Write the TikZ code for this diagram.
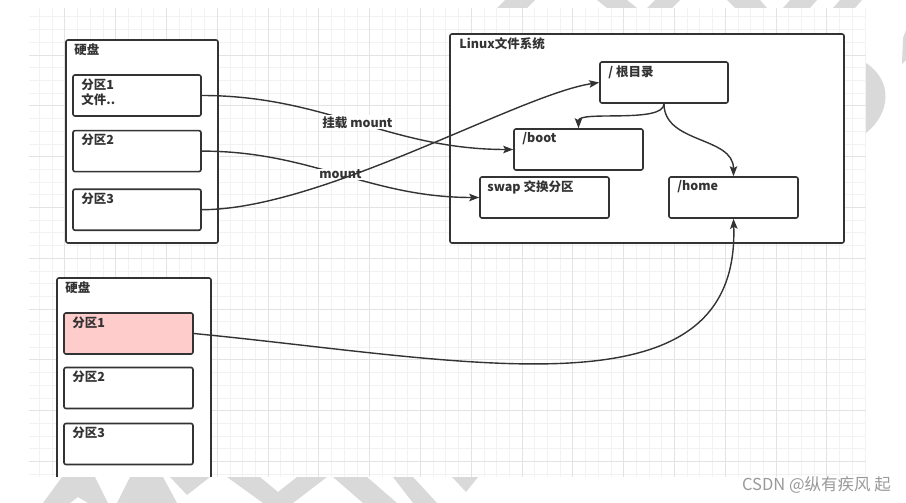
\documentclass[tikz,border=0pt]{standalone}
\usepackage{fontspec}
\setmainfont{Noto Sans CJK SC}
\usetikzlibrary{arrows.meta,positioning}
\definecolor{ink}{HTML}{333333}
\definecolor{gridmin}{HTML}{F2F2F2}
\definecolor{gridmaj}{HTML}{E3E3E3}
\definecolor{pinkfill}{HTML}{FFCCCC}
\definecolor{wmark}{HTML}{D9D9D9}
\definecolor{wtext}{HTML}{9A9A9A}

\begin{document}
\begin{tikzpicture}[
  x=1pt, y=-1pt,
  box/.style={rectangle, draw=ink, line width=1.6pt, rounded corners=2pt,
              fill=white, inner sep=0pt},
  part/.style={box, minimum width=128pt, minimum height=41pt},
  disk/.style={box, minimum width=152pt},
  tag/.style={anchor=north west, inner sep=0pt, xshift=9pt, yshift=-4pt,
              font=\fontsize{12.5}{16}\selectfont\bfseries, text=ink, align=left},
  lbl/.style={fill=white, inner sep=1pt,
              font=\fontsize{12.5}{15}\selectfont\bfseries, text=ink},
  arr/.style={-{Stealth[length=10pt,width=7.5pt,inset=2pt]}, draw=ink, line width=1.4pt}
]
  \useasboundingbox (0,0) rectangle (906,503);
  \fill[white] (0,0) rectangle (906,503);

  % grid
  \foreach \k in {2,...,67}
    \draw[gridmin, line width=0.8pt] ({14+12.7*\k},8) -- ({14+12.7*\k},477);
  \foreach \k in {1,...,37}
    \draw[gridmin, line width=0.8pt] (29,{4.2+12.7*\k}) -- (866,{4.2+12.7*\k});
  \foreach \k in {1,...,16}
    \draw[gridmaj, line width=0.8pt] ({14+50.8*\k},8) -- ({14+50.8*\k},477);
  \foreach \k in {1,...,9}
    \draw[gridmaj, line width=0.8pt] (29,{4.2+50.8*\k}) -- (866,{4.2+50.8*\k});

  % first disk
  \node[disk, minimum height=203pt, label={[tag]north west:硬盘}] (disk1) at (142,141.5) {};
  \node[part, label={[tag]north west:分区1\\文件..}] (p11) at (137,95.5) {};
  \node[part, label={[tag]north west:分区2}] (p12) [below=13pt of p11] {};
  \node[part, label={[tag]north west:分区3}] (p13) [below=16pt of p12] {};

  % linux file system
  \node[box, minimum width=394pt, minimum height=209pt,
        label={[tag, xshift=1pt]north west:Linux文件系统}] (linux) at (647,138.5) {};
  \node[part, label={[tag]north west:/ 根目录}] (root) at (664,82.5) {};
  \node[part, minimum width=129pt, label={[tag]north west:/boot}] (boot) at (578.5,149.5) {};
  \node[part, minimum width=129pt, label={[tag, xshift=-1pt]north west:swap 交换分区}] (swap) at (544.5,197.5) {};
  \node[part, minimum width=129pt, label={[tag]north west:/home}] (home) at (733.5,197.5) {};

  % second disk
  \node[disk, minimum width=154pt, minimum height=212pt,
        label={[tag]north west:硬盘}] (disk2) at (134,384) {};
  \node[part, minimum width=129pt, fill=pinkfill, label={[tag]north west:分区1}] (q1) at (128.5,333.5) {};
  \node[part, minimum width=129pt, label={[tag]north west:分区2}] (q2) at (128.5,388) {};
  \node[part, minimum width=129pt, label={[tag]north west:分区3}] (q3) at (128.5,444) {};

  % mounts
  \draw[arr] (p11.east) to[out=0,in=180] node[lbl] {挂载 mount} (boot.west);
  \draw[arr] (p12.east) to[out=0,in=180] node[lbl] {mount} (swap.west);
  \draw[arr] (p13.east) .. controls +(120,0) and +(-80,12) .. (root.west);
  \draw[arr] (root.south) .. controls +(0,20) and +(0,-18) .. (boot.north);
  \draw[arr] (root.south) .. controls +(0,40) and +(0,-40) .. (home.north);
  \draw[arr] (q1.east) .. controls +(277,27) and +(6.5,202) .. (home.south);

  % watermark
  \fill[white] (0,477) rectangle (906,503);
  \fill[white] (866,0) rectangle (906,503);
  \fill[wmark] (62,477) -- (95,477) -- (108,503) -- (88,503) -- (78,497) -- (70,503) -- (43,503) -- cycle;
  \fill[wmark] (130,477) -- (163,477) -- (177,503) -- (117,503) -- cycle;
  \fill[wmark] (170,477) -- (210,477) -- (187,495) -- cycle;
  \fill[wmark] (227,477) -- (260,477) -- (278,492) -- (297,477) -- (327,477) -- (293,503) -- (263,503) -- cycle;
  \fill[wmark] (333,477) -- (367,477) -- (397,503) -- (363,503) -- cycle;
  \fill[wmark] (393,477) -- (413,477) -- (437,503) -- (413,503) -- cycle;
  \fill[wmark] (452,477) -- (478,477) -- (466,492) -- cycle;
  \fill[wmark] (505,0) -- (535,0) -- (527,8) -- (497,8) -- cycle;
  \fill[wmark] (597,0) -- (627,0) -- (637,8) -- (607,8) -- cycle;
  \fill[wmark] (655,0) -- (680,0) -- (672,8) -- (647,8) -- cycle;
  \fill[wmark] (727,0) -- (760,0) -- (767,8) -- (735,8) -- cycle;
  \fill[wmark] (790,0) -- (817,0) -- (810,8) -- (783,8) -- cycle;
  \fill[wmark] (840,0) -- (862,0) -- (855,8) -- (833,8) -- cycle;
  \fill[wmark] (866,63) .. controls (892,80) and (892,112) .. (866,133) -- cycle;
  \fill[wmark] (903,38) -- (906,30) -- (906,60) -- (902,64) -- cycle;
  \node[anchor=east, inner sep=0pt, text=wtext, font=\fontsize{16.5}{16.5}\selectfont] (csdn) at (891,485) {CSDN @纵有疾风 起};
\end{tikzpicture}
\end{document}
